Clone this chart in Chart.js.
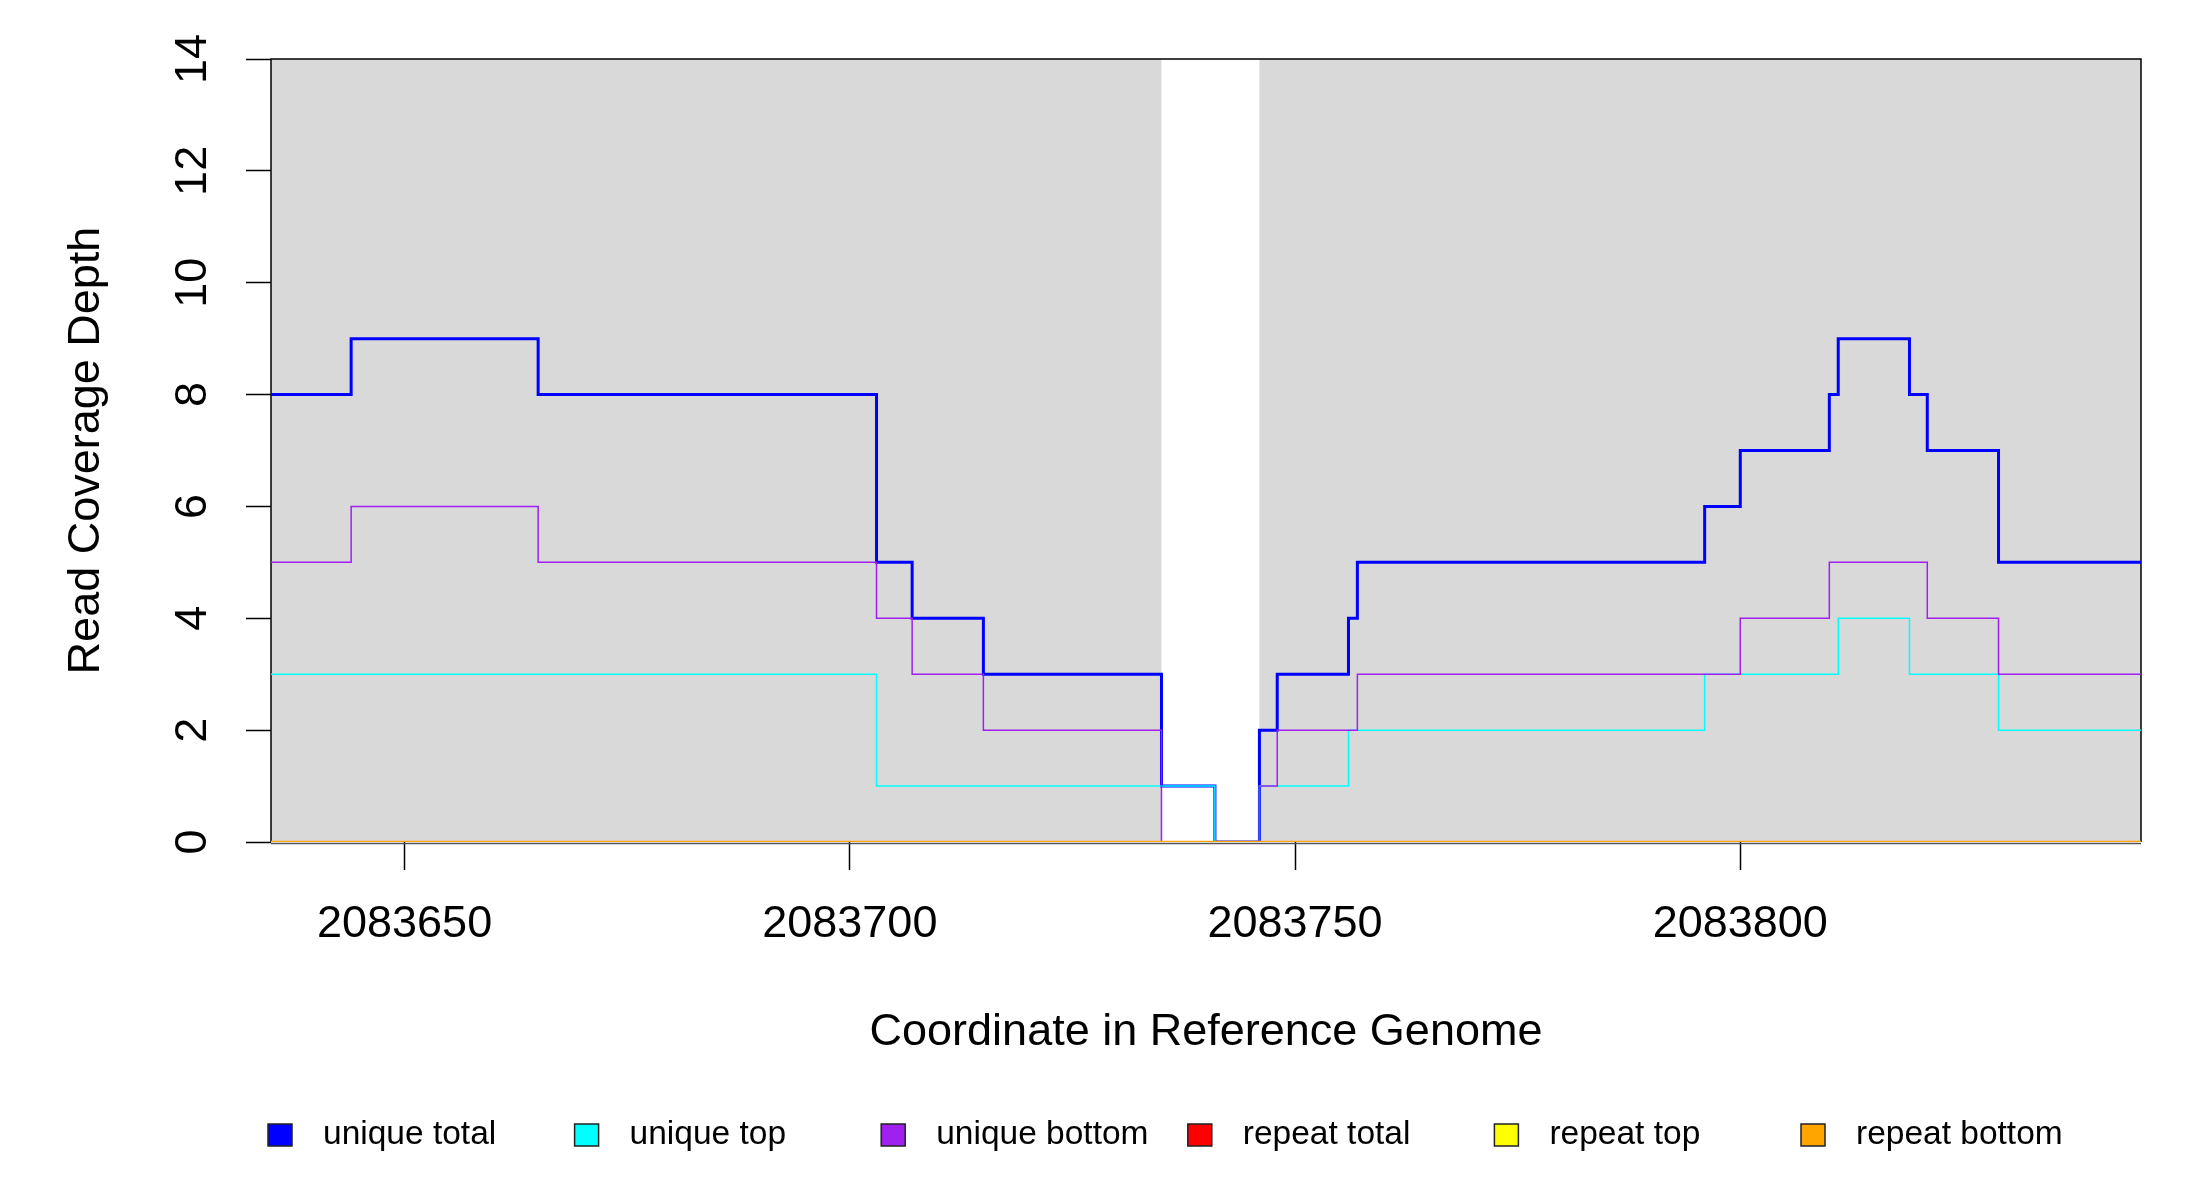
<!DOCTYPE html>
<html>
<head>
<meta charset="utf-8">
<script src="https://cdn.jsdelivr.net/npm/chart.js@4.4.1/dist/chart.umd.min.js"></script>
<style>
  body { margin: 0; background: #fff; }
  #wrap { width: 2200px; height: 1200px; }
</style>
</head>
<body>
<div id="wrap"><canvas id="coverage"></canvas></div>
<script>
// step starts along the genome (last entry closes the final step)
const positions = [2083635, 2083644, 2083665, 2083703, 2083707, 2083715, 2083735, 2083741, 2083746, 2083748,
                   2083756, 2083757, 2083796, 2083800, 2083810, 2083811, 2083819, 2083821, 2083829, 2083845];

const uniqueTotal  = [8, 9, 8, 5, 4, 3, 1, 0, 2, 3, 4, 5, 6, 7, 8, 9, 8, 7, 5, 5];
const uniqueTop    = [3, 3, 3, 1, 1, 1, 1, 0, 1, 1, 2, 2, 3, 3, 3, 4, 3, 3, 2, 2];
const uniqueBottom = [5, 6, 5, 4, 3, 2, 0, 0, 1, 2, 2, 3, 3, 4, 5, 5, 5, 4, 3, 3];
const repeatTotal  = [0, 0, 0, 0, 0, 0, 0, 0, 0, 0, 0, 0, 0, 0, 0, 0, 0, 0, 0, 0];
const repeatTop    = [0, 0, 0, 0, 0, 0, 0, 0, 0, 0, 0, 0, 0, 0, 0, 0, 0, 0, 0, 0];
const repeatBottom = [0, 0, 0, 0, 0, 0, 0, 0, 0, 0, 0, 0, 0, 0, 0, 0, 0, 0, 0, 0];

const seriesLabels = ['unique total', 'unique top', 'unique bottom', 'repeat total', 'repeat top', 'repeat bottom'];

// grey background bands
const shadeFrom = [2083635, 2083746];
const shadeTo   = [2083735, 2083845];

const xTicks = [2083650, 2083700, 2083750, 2083800];
const yTicks = [0, 2, 4, 6, 8, 10, 12, 14];

const fontFamily = '"Liberation Sans", Arial, sans-serif';

function steps(values) {
  return positions.map((x, i) => ({ x: x, y: values[i] }));
}

const bandsAndFrame = {
  id: 'bandsAndFrame',
  beforeDatasetsDraw(chart) {
    const { ctx, chartArea: a, scales: { x } } = chart;
    ctx.save();
    ctx.fillStyle = '#d9d9d9';
    shadeFrom.forEach((from, i) => {
      const x1 = Math.max(a.left, x.getPixelForValue(from));
      const x2 = Math.min(a.right, x.getPixelForValue(shadeTo[i]));
      ctx.fillRect(x1, a.top, x2 - x1, a.bottom - a.top);
    });
    ctx.lineWidth = 1.5;
    ctx.strokeStyle = '#000';
    ctx.beginPath();
    ctx.moveTo(a.left, a.bottom);
    ctx.lineTo(a.left, a.top);
    ctx.lineTo(a.right, a.top);
    ctx.lineTo(a.right, a.bottom);
    ctx.stroke();
    ctx.strokeStyle = '#555';
    ctx.beginPath();
    ctx.moveTo(a.left, a.bottom + 1.5);
    ctx.lineTo(a.right, a.bottom + 1.5);
    ctx.stroke();
    ctx.restore();
  }
};

const bottomLegend = {
  id: 'bottomLegend',
  afterDraw(chart) {
    const ctx = chart.ctx;
    ctx.save();
    ctx.font = '33.5px ' + fontFamily;
    ctx.textBaseline = 'middle';
    ctx.textAlign = 'left';
    seriesLabels.forEach((label, i) => {
      const ds = chart.data.datasets[i];
      const cx = 280 + i * 306.6;
      const cy = 1135;
      ctx.fillStyle = ds.borderColor;
      ctx.fillRect(cx - 12, cy - 11, 24, 22);
      ctx.lineWidth = 1.5;
      ctx.strokeStyle = '#222';
      ctx.strokeRect(cx - 12, cy - 11, 24, 22);
      ctx.fillStyle = '#000';
      ctx.fillText(label, cx + 43, cy);
    });
    ctx.restore();
  }
};

const line = (values, color, width, order) => ({
  data: steps(values),
  borderColor: color,
  backgroundColor: color,
  borderWidth: width,
  stepped: 'before',
  pointRadius: 0,
  fill: false,
  order: order
});

const chart = new Chart(document.getElementById('coverage'), {
  type: 'line',
  data: {
    datasets: [
      Object.assign(line(uniqueTotal, '#0000ff', 3, 6), { label: seriesLabels[0] }),
      Object.assign(line(uniqueTop, '#00ffff', 1.5, 5), { label: seriesLabels[1] }),
      Object.assign(line(uniqueBottom, '#a020f0', 1.5, 4), { label: seriesLabels[2] }),
      Object.assign(line(repeatTotal, '#ff0000', 2, 3), { label: seriesLabels[3] }),
      Object.assign(line(repeatTop, '#ffff00', 2, 2), { label: seriesLabels[4] }),
      Object.assign(line(repeatBottom, '#ffa500', 2.5, 1), { label: seriesLabels[5] })
    ]
  },
  options: {
    responsive: true,
    maintainAspectRatio: false,
    devicePixelRatio: 1,
    animation: false,
    layout: { padding: { left: 0, right: 59, top: 59, bottom: 140 } },
    plugins: { legend: { display: false }, tooltip: { enabled: false } },
    scales: {
      x: {
        type: 'linear',
        min: 2083635,
        max: 2083845,
        afterBuildTicks: (scale) => { scale.ticks = xTicks.map(v => ({ value: v })); },
        afterFit: (scale) => { scale.height = 218; },
        grid: { drawOnChartArea: false, color: '#000', tickLength: 28, tickWidth: 1.5 },
        border: { display: false },
        ticks: {
          padding: 28,
          color: '#000',
          maxRotation: 0,
          font: { family: fontFamily, size: 45 },
          callback: (v) => String(v)
        },
        title: {
          display: true,
          text: 'Coordinate in Reference Genome',
          color: '#000',
          font: { family: fontFamily, size: 45 },
          padding: { top: 0, bottom: 0.5 }
        }
      },
      y: {
        min: 0,
        max: 14,
        afterBuildTicks: (scale) => { scale.ticks = yTicks.map(v => ({ value: v })); },
        afterFit: (scale) => { scale.width = 271; },
        grid: { drawOnChartArea: false, color: '#000', tickLength: 25, tickWidth: 1.5 },
        border: { display: false },
        ticks: {
          padding: 27,
          color: '#000',
          minRotation: 90,
          maxRotation: 90,
          crossAlign: 'center',
          font: { family: fontFamily, size: 45 }
        },
        title: {
          display: true,
          text: 'Read Coverage Depth',
          color: '#000',
          font: { family: fontFamily, size: 45 },
          padding: { top: 60, bottom: 0 }
        }
      }
    }
  },
  plugins: [bandsAndFrame, bottomLegend]
});
</script>
</body>
</html>
